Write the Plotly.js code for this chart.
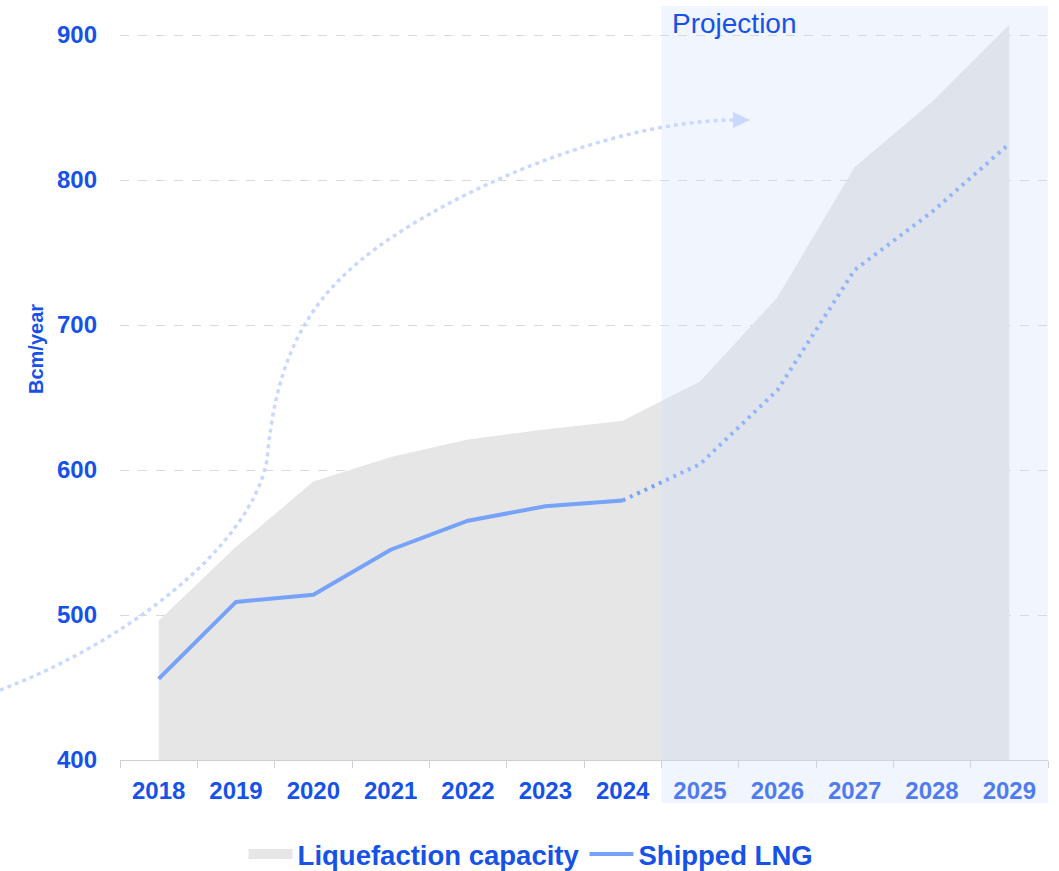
<!DOCTYPE html>
<html>
<head>
<meta charset="utf-8">
<script src="https://cdn.plot.ly/plotly-3.0.1.min.js"></script>
<style>html,body{margin:0;padding:0;background:#fff;}#chart{width:1059px;height:871px;}</style>
</head>
<body>
<div id="chart"></div>
<script>
// ---- data ----
const years = ["2018","2019","2020","2021","2022","2023","2024","2025","2026","2027","2028","2029"];
const liquefactionCapacity = [496, 547, 592, 609, 621, 628, 634, 661, 719, 809, 854, 907];
const shippedLNG = [456, 509, 514, 545, 565, 575, 579, 604, 655, 738, 778, 825];
const histCount = 7; // 2018-2024 actual, 2024 onward projected
const yTicks = [400, 500, 600, 700, 800, 900];

// ---- style ----
const blue = "#1652e8";
const lineBlue = "#77a2f9";
const areaGray = "#e6e6e6";
const FONT = "Liberation Sans, Arial, sans-serif";
const W = 1059, H = 871;
const M = {l: 120, r: 11, t: 6, b: 111, autoexpand: false};
const PW = W - M.l - M.r, PH = H - M.t - M.b;
// decoration helpers (pixel -> paper)
const px = x => ((x - M.l) / PW).toFixed(4);
const py = y => ((H - M.b - y) / PH).toFixed(4);
const P = (x, y) => px(x) + "," + py(y);

const curvePath = "M" + P(0,690) +
  " C" + P(120,645) + " " + P(250,550) + " " + P(267,460) +
  " C" + P(275,370) + " " + P(300,310) + " " + P(361,260) +
  " C" + P(434,200) + " " + P(600,122) + " " + P(733,120);
const arrowPath = "M" + P(733,112) + " L" + P(750,120) + " L" + P(733,128) + " Z";

const traces = [
  {
    x: years, y: liquefactionCapacity, type: "scatter", mode: "none",
    fill: "tozeroy", fillcolor: areaGray, name: "Liquefaction capacity",
    showlegend: false, legendgroup: "cap", hoverinfo: "x+y"
  },
  {
    // legend swatch for the capacity area (wide grey box)
    x: [null], y: [null], type: "scatter", mode: "lines",
    name: "Liquefaction capacity", legendgroup: "cap",
    line: {color: areaGray, width: 20}
  },
  {
    x: years.slice(0, histCount), y: shippedLNG.slice(0, histCount),
    type: "scatter", mode: "lines", name: "Shipped LNG",
    line: {color: lineBlue, width: 4}
  },
  {
    x: years.slice(histCount - 1), y: shippedLNG.slice(histCount - 1),
    type: "scatter", mode: "lines", name: "Shipped LNG (projection)", showlegend: false,
    line: {color: lineBlue, width: 4, dash: "3px,5px"}
  }
];

const layout = {
  width: W, height: H,
  margin: M,
  paper_bgcolor: "#fff", plot_bgcolor: "#fff",
  font: {family: FONT, color: blue},
  showlegend: true,
  legend: {
    orientation: "h", x: 0.443, xanchor: "center", y: py(854), yanchor: "middle",
    font: {family: FONT, size: 27.5, color: blue, weight: "bold"},
    itemwidth: 44, tracegroupgap: 0, bgcolor: "rgba(0,0,0,0)"
  },
  xaxis: {
    type: "category", range: [-0.5, 11.5], fixedrange: true, automargin: false,
    showgrid: false, zeroline: false,
    showline: true, linecolor: "#d0d0d0", linewidth: 1,
    ticks: "outside", tickson: "boundaries", ticklen: 7, tickcolor: "#d0d0d0",
    ticklabelstandoff: 9,
    tickfont: {family: FONT, size: 24, color: blue, weight: "bold"}
  },
  yaxis: {
    range: [400, 920], fixedrange: true, automargin: false,
    tickvals: yTicks, ticktext: yTicks.map(String),
    showgrid: true, gridcolor: "#d9d9d9", griddash: "dash", gridwidth: 1,
    zeroline: false, showline: false, ticks: "",
    ticklabelstandoff: 22,
    tickfont: {family: FONT, size: 24, color: blue, weight: "bold"}
  },
  shapes: [
    {type: "rect", layer: "above", xref: "x", yref: "paper",
     x0: 6.5, x1: 11.5, y0: -0.057, y1: 1,
     fillcolor: "rgba(208,222,251,0.3)", line: {width: 0}},
    {type: "path", layer: "above", xref: "paper", yref: "paper", path: curvePath,
     line: {color: "#c9d8fc", width: 3.5, dash: "4px,4px"}},
    {type: "path", layer: "above", xref: "paper", yref: "paper", path: arrowPath,
     fillcolor: "#c9d8fc", line: {width: 0}}
  ],
  annotations: [
    {text: "Projection", xref: "x", yref: "paper", x: 6.5, y: 1, xanchor: "left", yanchor: "top",
     xshift: 9, yshift: 0, showarrow: false,
     font: {family: FONT, size: 28, color: blue}},
    {text: "Bcm/year", xref: "paper", yref: "paper", x: px(36), y: py(349),
     xanchor: "center", yanchor: "middle", textangle: -90, showarrow: false,
     font: {family: FONT, size: 20, color: blue, weight: "bold"}}
  ]
};

Plotly.newPlot("chart", traces, layout, {displayModeBar: false, staticPlot: true});
</script>
</body>
</html>
